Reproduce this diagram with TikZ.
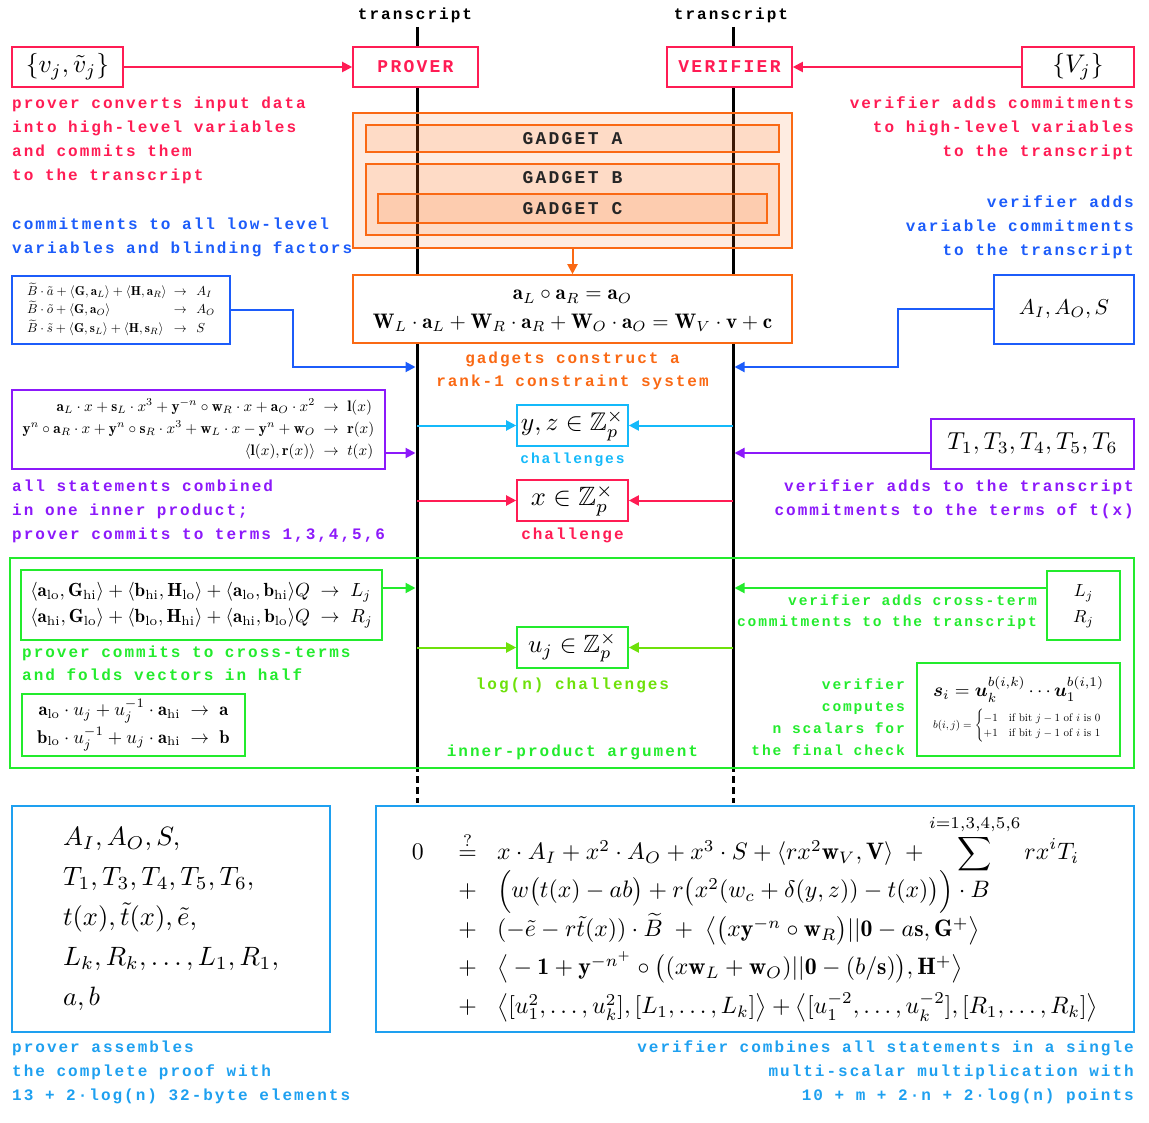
\RequirePackage{fix-cm}
\documentclass[tikz,border=0pt]{standalone}
\usepackage{amsmath,amssymb}
\usepackage{graphicx}
\usepackage{fontspec}
\newfontfamily\monofont[LetterSpace=12.5]{Liberation Mono}
\usepackage{tikz}
\usetikzlibrary{arrows.meta}
\usetikzlibrary{positioning}
\usetikzlibrary{calc}

\definecolor{prvred}{RGB}{255,28,84}
\definecolor{gorange}{RGB}{250,105,20}
\definecolor{cblue}{RGB}{28,92,250}
\definecolor{chcyan}{RGB}{20,185,250}
\definecolor{stpurple}{RGB}{140,25,250}
\definecolor{ipgreen}{RGB}{35,235,45}
\definecolor{chlime}{RGB}{110,225,10}
\definecolor{pfblue}{RGB}{30,160,240}

\newcommand{\lbfont}{\monofont\bfseries\fontsize{16}{20}\selectfont}
\newcommand{\slbfont}{\monofont\bfseries\fontsize{14.6}{18}\selectfont}
\newcommand{\ttlfont}{\monofont\bfseries\fontsize{18}{22}\selectfont}
\newcommand{\sm}[2]{\scalebox{#1}{$#2$}}

\tikzstyle{lbl}=[inner sep=0pt, font=\lbfont]
\tikzstyle{slbl}=[inner sep=0pt, font=\slbfont]
\tikzstyle{bx}=[draw, line width=1.6pt, fill=white, inner sep=0pt]
\tikzstyle{gbx}=[draw=gorange, line width=1.6pt, fill=gorange, fill opacity=0.13, text opacity=1, inner sep=0pt, font=\ttlfont, text=black!85]
\tikzstyle{edge}=[draw, line width=2pt, -{Triangle[length=10pt,width=10pt]}]
\tikzstyle{tline}=[draw, line width=3pt]

\begin{document}
\begin{tikzpicture}[x=1pt,y=-1pt]
\useasboundingbox (0,0) rectangle (1149,1123);

   % transcript lines
   \node[lbl] (ptr) at (415,15) {transcript};
   \node[lbl] (vtr) at (731,15) {transcript};
   \coordinate (ptop) at (417,27);
   \coordinate (pmid) at (417,772);
   \coordinate (pend) at (417,803);
   \coordinate (vtop) at (733,27);
   \coordinate (vmid) at (733,772);
   \coordinate (vend) at (733,803);
   \draw[tline] (ptop) -- (pmid);
   \draw[tline] (vtop) -- (vmid);
   \draw[tline, dash pattern=on 7pt off 4pt, dash phase=7pt] (pmid) -- (pend);
   \draw[tline, dash pattern=on 7pt off 4pt, dash phase=7pt] (vmid) -- (vend);

   % prover / verifier
   \node[bx, draw=prvred, text=prvred, font=\ttlfont, minimum width=125, minimum height=40] (prv) at (415.5,67) {PROVER};
   \node[bx, draw=prvred, text=prvred, font=\ttlfont, minimum width=125, minimum height=40] (vrf) at (729.5,67) {VERIFIER};
   \node[bx, draw=prvred, minimum width=111, minimum height=40] (vin) at (67.5,67) {\sm{2.55}{\{v_j,\tilde{v}_j\}}};
   \node[bx, draw=prvred, minimum width=112, minimum height=40] (Vin) at (1078,67) {\sm{2.55}{\{V_j\}}};
   \draw[edge, prvred] (vin) -- (prv);
   \draw[edge, prvred] (Vin) -- (vrf);

   \foreach \n/\yy/\t in {1/106/{prover converts input data}, 2/130/{into high-level variables}, 3/154/{and commits them}, 4/178/{to the transcript}}
      \node[lbl, text=prvred, anchor=mid west] (rl\n) at (12,\yy) {\t};
   \foreach \n/\yy/\t in {1/106/{verifier adds commitments}, 2/130/{to high-level variables}, 3/154/{to the transcript}}
      \node[lbl, text=prvred, anchor=mid east] (rr\n) at (1134,\yy) {\t};

   % gadgets
   \node[gbx, minimum width=439, minimum height=135] (gout) at (572.5,180.5) {};
   \node[gbx, minimum width=413, minimum height=27] (gA) at (572.5,138.5) {GADGET A};
   \node[gbx, minimum width=413, minimum height=71] (gB) at (572.5,199.5) {};
   \node[lbl, font=\ttlfont, text=black!85] (gBl) at (572.5,178) {GADGET B};
   \node[gbx, minimum width=389, minimum height=29] (gC) at (572.5,208.5) {GADGET C};

   \node[bx, draw=gorange, minimum width=439, minimum height=68] (cons) at (572.5,309)
      {\sm{2.1}{\begin{array}{c}\mathbf{a}_L\circ\mathbf{a}_R=\mathbf{a}_O\\[1.5pt]
        \mathbf{W}_L\cdot\mathbf{a}_L+\mathbf{W}_R\cdot\mathbf{a}_R+\mathbf{W}_O\cdot\mathbf{a}_O=\mathbf{W}_V\cdot\mathbf{v}+\mathbf{c}\end{array}}};
   \draw[edge, gorange] (gout) -- (cons);
   \foreach \n/\yy/\t in {1/359/{gadgets construct a}, 2/382/{rank-1 constraint system}}
      \node[lbl, text=gorange] (oc\n) at (572.5,\yy) {\t};

   % low-level commitments
   \foreach \n/\yy/\t in {1/227/{commitments to all low-level}, 2/251/{variables and blinding factors}}
      \node[lbl, text=cblue, anchor=mid west] (bl\n) at (12,\yy) {\t};
   \foreach \n/\yy/\t in {1/205/{verifier adds}, 2/229/{variable commitments}, 3/253/{to the transcript}}
      \node[lbl, text=cblue, anchor=mid east] (br\n) at (1134,\yy) {\t};

   \node[bx, draw=cblue, minimum width=218, minimum height=68] (bL) at (121,310)
      {\sm{1.3}{\begin{array}{l@{\;\;}l}
        \widetilde{B}\cdot\tilde{a}+\langle\mathbf{G},\mathbf{a}_L\rangle+\langle\mathbf{H},\mathbf{a}_R\rangle & \to\;\, A_I\\[1pt]
        \widetilde{B}\cdot\tilde{o}+\langle\mathbf{G},\mathbf{a}_O\rangle & \to\;\, A_O\\[1pt]
        \widetilde{B}\cdot\tilde{s}+\langle\mathbf{G},\mathbf{s}_L\rangle+\langle\mathbf{H},\mathbf{s}_R\rangle & \to\;\, S\end{array}}};
   \node[bx, draw=cblue, minimum width=140, minimum height=69] (bR) at (1064,309.5) {\sm{2.15}{A_I,A_O,S}};
   \coordinate (bLk) at (293,367);
   \coordinate (bRk) at (898,367);
   \draw[edge, cblue, shorten >=1.5pt] (bL.east) -| (bLk) -- (bLk -| ptop);
   \draw[edge, cblue, shorten >=1.5pt] (bR.west) -| (bRk) -- (bRk -| vtop);

   % challenges y,z
   \node[bx, draw=chcyan, minimum width=111, minimum height=41] (yz) at (572.5,425.5) {\sm{2.55}{y,z\in\mathbb{Z}_p^{\times}}};
   \node[slbl, text=chcyan] (yzl) at (572.5,460) {challenges};
   \draw[edge, chcyan] (yz.west -| ptop) -- (yz.west);
   \draw[edge, chcyan] (yz.east -| vtop) -- (yz.east);

   % polynomial statements
   \node[bx, draw=stpurple, minimum width=373, minimum height=79] (pst) at (198.5,429.5)
      {\sm{1.52}{\begin{array}{r@{\;\;}c@{\;\;}l}
        \mathbf{a}_L\cdot x+\mathbf{s}_L\cdot x^3+\mathbf{y}^{-n}\circ\mathbf{w}_R\cdot x+\mathbf{a}_O\cdot x^2 & \to & \mathbf{l}(x)\\[2.5pt]
        \mathbf{y}^n\circ\mathbf{a}_R\cdot x+\mathbf{y}^n\circ\mathbf{s}_R\cdot x^3+\mathbf{w}_L\cdot x-\mathbf{y}^n+\mathbf{w}_O & \to & \mathbf{r}(x)\\[2.5pt]
        \langle\mathbf{l}(x),\mathbf{r}(x)\rangle & \to & t(x)\end{array}}};
   \node[bx, draw=stpurple, minimum width=203, minimum height=50] (Ts) at (1032.5,444) {\sm{2.45}{T_1,T_3,T_4,T_5,T_6}};
   \draw[edge, stpurple, shorten >=1.5pt] ([yshift=-23.5pt]pst.east) -- ([yshift=-23.5pt]pst.east -| ptop);
   \draw[edge, stpurple, shorten >=1.5pt] ([yshift=-9pt]Ts.west) -- ([yshift=-9pt]Ts.west -| vtop);
   \foreach \n/\yy/\t in {1/489/{all statements combined}, 2/513/{in one inner product;}, 3/537/{prover commits to terms 1,3,4,5,6}}
      \node[lbl, text=stpurple, anchor=mid west] (sl\n) at (12,\yy) {\t};
   \foreach \n/\yy/\t in {1/489/{verifier adds to the transcript}, 2/513/{commitments to the terms of t(x)}}
      \node[lbl, text=stpurple, anchor=mid east] (sr\n) at (1134,\yy) {\t};

   % challenge x
   \node[bx, draw=prvred, minimum width=111, minimum height=41] (xch) at (572.5,500.5) {\sm{2.65}{x\in\mathbb{Z}_p^{\times}}};
   \node[lbl, text=prvred] (xchl) at (572.5,535) {challenge};
   \draw[edge, prvred] (xch.west -| ptop) -- (xch.west);
   \draw[edge, prvred] (xch.east -| vtop) -- (xch.east);

   % inner-product argument
   \node[draw=ipgreen, line width=1.6pt, inner sep=0pt, minimum width=1124, minimum height=210] (ipa) at (572,663) {};
   \node[bx, draw=ipgreen, minimum width=359, minimum height=70] (gL) at (201.5,605)
      {\sm{1.9}{\begin{array}{r@{\;\;}c@{\;\;}l}
        \langle\mathbf{a}_{\mathrm{lo}},\mathbf{G}_{\mathrm{hi}}\rangle+\langle\mathbf{b}_{\mathrm{hi}},\mathbf{H}_{\mathrm{lo}}\rangle+\langle\mathbf{a}_{\mathrm{lo}},\mathbf{b}_{\mathrm{hi}}\rangle Q & \to & L_j\\[2pt]
        \langle\mathbf{a}_{\mathrm{hi}},\mathbf{G}_{\mathrm{lo}}\rangle+\langle\mathbf{b}_{\mathrm{lo}},\mathbf{H}_{\mathrm{hi}}\rangle+\langle\mathbf{a}_{\mathrm{hi}},\mathbf{b}_{\mathrm{lo}}\rangle Q & \to & R_j\end{array}}};
   \node[bx, draw=ipgreen, minimum width=73, minimum height=69] (LR) at (1083.5,605.5)
      {\sm{1.75}{\begin{array}{c}L_j\\[3pt] R_j\end{array}}};
   \draw[edge, ipgreen, shorten >=1.5pt] ([yshift=17pt]gL.east) -- ([yshift=17pt]gL.east -| ptop);
   \draw[edge, ipgreen, shorten >=1.5pt] ([yshift=17.5pt]LR.west) -- ([yshift=17.5pt]LR.west -| vtop);
   \foreach \n/\yy/\t in {1/603/{verifier adds cross-term}, 2/624/{commitments to the transcript}}
      \node[slbl, text=ipgreen, anchor=mid east] (gr\n) at (1037,\yy) {\t};
   \foreach \n/\yy/\t in {1/655/{prover commits to cross-terms}, 2/678/{and folds vectors in half}}
      \node[lbl, text=ipgreen, anchor=mid west] (gl\n) at (22,\yy) {\t};

   \node[bx, draw=ipgreen, minimum width=223, minimum height=62] (fold) at (133.5,725)
      {\sm{1.85}{\begin{array}{r@{\;\;}c@{\;\;}l}
        \mathbf{a}_{\mathrm{lo}}\cdot u_j+u_j^{-1}\cdot\mathbf{a}_{\mathrm{hi}} & \to & \mathbf{a}\\[2.5pt]
        \mathbf{b}_{\mathrm{lo}}\cdot u_j^{-1}+u_j\cdot\mathbf{a}_{\mathrm{hi}} & \to & \mathbf{b}\end{array}}};

   \node[bx, draw=ipgreen, minimum width=111, minimum height=41] (uj) at (572.5,647.5) {\sm{2.5}{u_j\in\mathbb{Z}_p^{\times}}};
   \node[lbl, text=chlime] (ujl) at (572.5,685) {log(n) challenges};
   \draw[edge, chlime] (uj.west -| ptop) -- (uj.west);
   \draw[edge, chlime] (uj.east -| vtop) -- (uj.east);
   \node[lbl, text=ipgreen] (ipal) at (572.5,752) {inner-product argument};

   \foreach \n/\yy/\t in {1/687/{verifier}, 2/709/{computes}, 3/731/{n scalars for}, 4/753/{the final check}}
      \node[slbl, text=ipgreen, anchor=mid east] (gs\n) at (905,\yy) {\t};
   \node[bx, draw=ipgreen, minimum width=203, minimum height=93, align=left] (si) at (1018.5,709.5)
      {\sm{1.9}{\boldsymbol{s}_i=\boldsymbol{u}_k^{b(i,k)}\cdots\boldsymbol{u}_1^{b(i,1)}}\\[6pt]
       \sm{1.1}{b(i,j)=\begin{cases}-1 & \text{if bit $j-1$ of $i$ is 0}\\ +1 & \text{if bit $j-1$ of $i$ is 1}\end{cases}}};

   % final proof and check
   \node[bx, draw=pfblue, minimum width=318, minimum height=226] (proof) at (171,919)
      {\sm{2.65}{\begin{array}{l}A_I,A_O,S,\\[3pt] T_1,T_3,T_4,T_5,T_6,\\[3pt] t(x),\tilde{t}(x),\tilde{e},\\[3pt] L_k,R_k,\ldots,L_1,R_1,\\[3pt] a,b\end{array}}};
   \node[bx, draw=pfblue, minimum width=758, minimum height=226] (check) at (755,919)
      {\raisebox{4pt}{\sm{2.38}{\begin{array}{c@{\hspace{14.5pt}}c@{\hspace{8.5pt}}l}
        0 & \overset{?}{=} & x\cdot A_I+x^2\cdot A_O+x^3\cdot S+\langle rx^2\mathbf{w}_V,\mathbf{V}\rangle\;+\displaystyle\sum^{i=1,3,4,5,6} rx^iT_i\\[-1pt]
          & + & \Big(w\big(t(x)-ab\big)+r\big(x^2(w_c+\delta(y,z))-t(x)\big)\Big)\cdot B\\[3pt]
          & + & (-\tilde{e}-r\tilde{t}(x))\cdot\widetilde{B}\;+\;\big\langle\big(x\mathbf{y}^{-n}\circ\mathbf{w}_R\big)||\mathbf{0}-a\mathbf{s},\mathbf{G}^{+}\big\rangle\\[2.5pt]
          & + & \big\langle-\mathbf{1}+\mathbf{y}^{-n^{+}}\circ\big((x\mathbf{w}_L+\mathbf{w}_O)||\mathbf{0}-(b/\mathbf{s})\big),\mathbf{H}^{+}\big\rangle\\[4pt]
          & + & \big\langle[u_1^2,\ldots,u_k^2],[L_1,\ldots,L_k]\big\rangle+\big\langle[u_1^{-2},\ldots,u_k^{-2}],[R_1,\ldots,R_k]\big\rangle\end{array}}}};

   \foreach \n/\yy/\t in {1/1050/{prover assembles}, 2/1074/{the complete proof with}, 3/1098/{13 + 2·log(n) 32-byte elements}}
      \node[lbl, text=pfblue, anchor=mid west] (fl\n) at (12,\yy) {\t};
   \foreach \n/\yy/\t in {1/1050/{verifier combines all statements in a single}, 2/1074/{multi-scalar multiplication with}, 3/1098/{10 + m + 2·n + 2·log(n) points}}
      \node[lbl, text=pfblue, anchor=mid east] (fr\n) at (1134,\yy) {\t};

\end{tikzpicture}
\end{document}
